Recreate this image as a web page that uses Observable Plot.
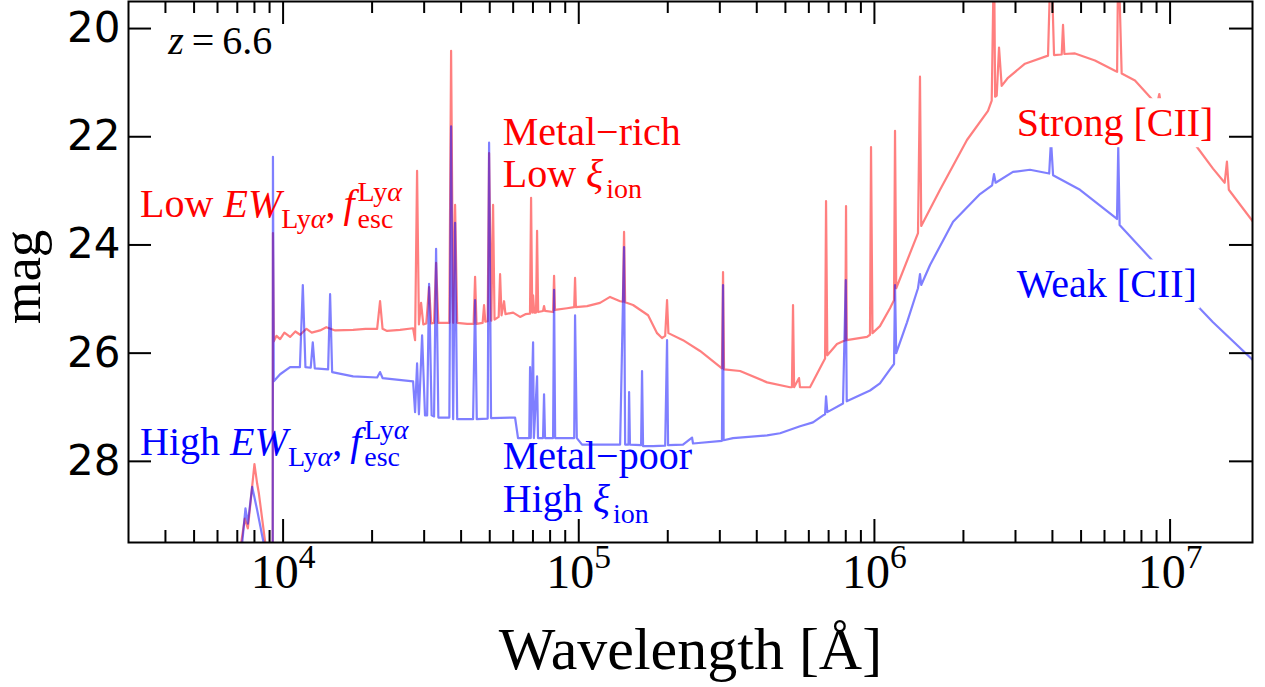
<!DOCTYPE html>
<html><head><meta charset="utf-8">
<script src="https://cdn.jsdelivr.net/npm/d3@7"></script>
<script src="https://cdn.jsdelivr.net/npm/@observablehq/plot@0.6"></script>
<style>body{margin:0;background:#fff;} svg{display:block}</style>
</head><body><div id="chart"></div>
<script>
// ---- data: [observed wavelength (Å), magnitude] ----
const redSpectrum = [
[7000,31],[7210,29.52],[7420,29.06],[7600,29.24],[8000,28.05],[8170,28.41],[8280,28.59],[8710,29.52],[9000,31],[9220,31],
[9240,23.78],[9300,25.78],[9500,25.68],[9770,25.74],[10100,25.62],[10560,25.70],[11000,25.60],[11420,25.66],[12000,25.55],[12500,25.62],
[13340,25.58],[14000,25.52],[15000,25.58],[17250,25.57],[19000,25.55],[20800,25.55],[21280,25.04],[21700,25.55],[22470,25.59],[24870,25.57],
[27520,25.54],[27950,25.76],[28390,22.63],[28800,25.47],[29290,25.07],[29800,25.47],[30500,25.45],[31170,24.78],[31700,25.45],[32400,25.44],[32920,24.33],
[33500,25.44],[36500,25.44],[37000,20.41],[37600,25.44],[38170,23.26],[38800,25.44],[41920,25.46],[44100,25.46],[44600,24.59],[45100,25.46],
[47300,25.44],[47830,25.11],[48300,25.42],[49200,25.41],[49740,22.30],[50600,25.40],[51310,23.26],[51900,25.38],[53600,25.33],[54190,24.54],[54800,25.30],[55890,25.04],
[56500,25.28],[60000,25.25],[63320,25.33],[66000,25.28],[68400,25.27],[68980,23.13],[69600,25.25],[70070,24.93],[70700,25.25],[71700,25.25],[72280,23.74],[72900,25.24],
[75700,25.22],[76310,25.13],[76900,25.22],[81870,25.24],[82510,24.57],[83100,25.20],[91290,25.17],[96500,25.15],[97160,24.61],[97800,25.15],
[106700,25.13],[118000,25.07],[127600,24.96],[138000,25.04],[141000,25.05],[142300,23.76],[143500,25.06],[152600,25.11],[171600,25.30],[184000,25.63],[191200,25.72],
[196000,25.68],[198900,25.02],[201000,25.63],[225200,25.76],[257200,25.96],[305000,26.28],[307600,24.50],[310000,26.30],[351200,26.33],[433500,26.54],
[518300,26.63],[526000,26.63],[530500,25.11],[535000,26.63],[555900,26.46],[560000,26.63],[605500,26.63],[670400,26.17],[681000,26.10],[686100,23.19],[693000,26.04],[747100,25.83],
[797000,25.76],[801700,23.28],[806000,25.76],[944100,25.70],[966000,25.66],[973900,22.19],[985000,25.63],[1.044e6,25.50],[1.129e6,25.17],[1.165e6,25.02],[1.174e6,21.89],[1.185e6,24.80],
[1.404e6,23.78],[1.426e6,20.89],[1.44e6,23.65],[1.667e6,22.98],[2.056e6,22.06],[2.422e6,21.52],[2.493e6,21.33],[2.538e6,18.5],[2.56e6,21.26],[2.592e6,21.24],
[2.639e6,20.35],[2.694e6,21.06],[2.83e6,20.91],[3.231e6,20.65],[3.865e6,20.50],[3.956e6,18.5],[4.05e6,20.49],[4.30e6,20.48],[4.344e6,19.93],[4.39e6,20.47],
[4.769e6,20.46],[5.572e6,20.59],[6.511e6,20.78],[6.62e6,20.80],[6.679e6,18.5],[6.859e6,20.83],[7.608e6,20.96],[9.031e6,21.41],[9.194e6,21.21],[9.36e6,21.47],[1.233e7,22.19],
[1.397e7,22.59],[1.53e7,22.85],[1.557e7,22.46],[1.58e7,22.98],[1.907e7,23.57]
];
const blueSpectrum = [
[7000,31],[7270,29.52],[7460,28.87],[7600,29.15],[7860,28.47],[8170,28.90],[8600,29.52],[9000,31],[9220,31],
[9240,22.37],[9300,26.52],[9770,26.39],[10560,26.26],[11400,26.26],[11660,24.74],[11900,26.26],[12400,26.27],[12600,25.80],[12800,26.28],
[14200,26.30],[14420,24.91],[14650,26.35],[17250,26.43],[20800,26.45],[21280,26.35],[21700,26.46],[27520,26.52],[27950,27.09],[28390,26.19],
[28800,27.13],[29520,25.67],[30200,27.15],[30700,27.15],[31170,24.72],[31800,27.15],[32400,27.17],[32920,24.07],[33500,27.19],[36500,27.19],[37000,21.81],[37600,27.22],
[38170,23.59],[38800,27.22],[43910,27.22],[44600,25.02],[45200,27.22],[49200,27.21],[49740,22.11],[50500,27.20],[60890,27.19],[62320,27.57],[68000,27.57],
[68440,26.26],[68800,27.57],[70070,25.80],[70500,27.57],[72280,26.43],[72800,27.57],[75700,27.57],[76310,26.76],[76900,27.57],[81870,27.57],[82510,24.83],[83200,27.57],
[96500,27.57],[97160,25.30],[98500,27.57],[102600,27.69],[138000,27.69],[142300,24.04],[143500,27.69],[147300,27.69],[148000,26.72],[149000,27.69],[162500,27.70],[163700,26.33],[165000,27.72],
[178400,27.72],[196000,27.71],[198900,25.76],[200500,27.70],[225200,27.69],[241600,27.56],[243500,27.67],[305000,27.62],[307600,24.74],[309000,27.61],[332500,27.57],[433500,27.52],
[479600,27.48],[560300,27.35],[619800,27.28],[670400,27.15],[681000,27.13],[686100,26.80],[693000,27.09],[783000,26.93],[800000,24.65],[806000,26.89],[966300,26.69],
[1.044e6,26.56],[1.129e6,26.30],[1.165e6,26.20],[1.174e6,24.74],[1.185e6,26.00],[1.289e6,25.43],[1.404e6,24.80],[1.426e6,24.54],[1.44e6,24.74],[1.542e6,24.37],[1.845e6,23.57],
[2.276e6,23.06],[2.50e6,22.90],[2.538e6,22.69],[2.57e6,22.85],[2.942e6,22.65],[3.359e6,22.61],[3.90e6,22.68],[3.956e6,22.06],[4.02e6,22.71],[4.958e6,22.98],
[6.613e6,23.52],[6.679e6,22.19],[6.75e6,23.63],[9.245e6,24.44],[1.195e7,25.04],[1.397e7,25.43],[1.907e7,26.13]
];

const xMajorTicks = [1e4, 1e5, 1e6, 1e7];
const xMinorTicks = [4e3,5e3,6e3,7e3,8e3,9e3,2e4,3e4,4e4,5e4,6e4,7e4,8e4,9e4,2e5,3e5,4e5,5e5,6e5,7e5,8e5,9e5,2e6,3e6,4e6,5e6,6e6,7e6,8e6,9e6];
const yTicks = [20, 22, 24, 26, 28];

const annText  = ["z = 6.6", "Low EW_Lyα, f_esc^Lyα", "High EW_Lyα, f_esc^Lyα", "Metal−rich", "Low ξ_ion", "Metal−poor", "High ξ_ion", "Strong [CII]", "Weak [CII]"];
const annWave  = [4085, 3284, 3284, 55340, 55340, 55340, 55340, 3.03e6, 3.03e6];
const annMag   = [20.47, 23.48, 27.88, 22.16, 22.92, 28.15, 28.94, 21.99, 24.97];
const annColor = ["black", "#ff0000", "#0000ff", "#ff0000", "#ff0000", "#0000ff", "#0000ff", "#ff0000", "#0000ff"];
const annBoxed = ["Strong [CII]", "Weak [CII]"];

// rich-text segments: i = italic, b = subscript, p = superscript, k = back to start of last subscript, s = small gap
const richText = {
  "z = 6.6": [["z","i"],["\u2009=\u20096.6",""]],
  "Low EW_Lyα, f_esc^Lyα": [["Low ",""],["EW","i"],["Ly","b"],["α","bi"],[",\u2009",""],["f","i"],["esc","bs"],["Ly","pk"],["α","pi"]],
  "High EW_Lyα, f_esc^Lyα": [["High ",""],["EW","i"],["Ly","b"],["α","bi"],[",\u2009",""],["f","i"],["esc","bs"],["Ly","pk"],["α","pi"]],
  "Low ξ_ion": [["Low ",""],["ξ","i"],["ion","bs"]],
  "High ξ_ion": [["High ",""],["ξ","i"],["ion","bs"]]
};

// ---- layout ----
const W = 1265, H = 687, mL = 128, mR = 13, mT = 1, mB = 145;
const fw = W - mL - mR, fh = H - mT - mB;
const serif = "'Liberation Serif', 'DejaVu Serif', serif";
const annSize = 40;

const red = redSpectrum.map(([w, m]) => ({w, m}));
const blue = blueSpectrum.map(([w, m]) => ({w, m}));

const annMarks = annText.map((t, i) => Plot.text([t], {
  x: () => annWave[i], y: () => annMag[i], text: d => d,
  fill: annColor[i], textAnchor: "start", lineAnchor: "bottom",
  fontSize: annSize, fontFamily: serif
}));

const plot = Plot.plot({
  width: W, height: H,
  marginLeft: mL, marginRight: mR, marginTop: mT, marginBottom: mB,
  style: {background: "white", fontFamily: serif},
  x: {type: "log", domain: [3000, 1.9e7]},
  y: {domain: [19.5, 29.5], reverse: true},
  marks: [
    Plot.line(red, {x: "w", y: "m", stroke: "red", strokeOpacity: 0.5, strokeWidth: 2.2, clip: true}),
    Plot.line(blue, {x: "w", y: "m", stroke: "blue", strokeOpacity: 0.5, strokeWidth: 2.2, clip: true}),
    Plot.tickX(xMajorTicks, {x: d => d, insetTop: fh - 23, stroke: "black", strokeWidth: 2}),
    Plot.tickX(xMajorTicks, {x: d => d, insetBottom: fh - 23, stroke: "black", strokeWidth: 2}),
    Plot.tickX(xMinorTicks, {x: d => d, insetTop: fh - 12, stroke: "black", strokeWidth: 2}),
    Plot.tickX(xMinorTicks, {x: d => d, insetBottom: fh - 12, stroke: "black", strokeWidth: 2}),
    Plot.tickY(yTicks, {y: d => d, insetRight: fw - 23, stroke: "black", strokeWidth: 2}),
    Plot.tickY(yTicks, {y: d => d, insetLeft: fw - 23, stroke: "black", strokeWidth: 2}),
    Plot.frame({stroke: "black", strokeWidth: 2}),
    Plot.axisY(yTicks, {anchor: "left", tickSize: 0, tickPadding: 8, fontSize: 42, fontFamily: "'DejaVu Sans', sans-serif", label: null,
      tickFormat: d => String(d)}),
    Plot.axisX(xMajorTicks, {anchor: "bottom", tickSize: 0, tickPadding: 11, fontSize: 48, fontFamily: serif, label: null,
      tickFormat: d => "10^" + Math.round(Math.log10(d))}),
    Plot.text(["mag"], {frameAnchor: "left", dx: -89, dy: 5, rotate: -90, textAnchor: "middle", lineAnchor: "bottom", fontSize: 55, fontFamily: serif, fill: "black"}),
    Plot.text(["Wavelength [Å]"], {frameAnchor: "bottom", dy: 126, textAnchor: "middle", lineAnchor: "bottom", fontSize: 60, fontFamily: serif, fill: "black"}),
    ...annMarks
  ]
});
document.getElementById("chart").appendChild(plot);

// ---- rich text post-processing ----
const NS = "http://www.w3.org/2000/svg";
function applyRich(el, segs, base) {
  el.textContent = "";
  let cur = 0, group = [], prevSub = false;
  for (const [t, st] of segs) {
    const ts = document.createElementNS(NS, "tspan");
    ts.textContent = t;
    const sub = st.includes("b"), sup = st.includes("p");
    const target = sub ? 0.28 * base : sup ? -0.40 * base : 0;
    if (st.includes("i")) ts.setAttribute("font-style", "italic");
    if (sub || sup) ts.setAttribute("font-size", (0.7 * base) + "px");
    if (target !== cur) { ts.setAttribute("dy", target - cur); cur = target; }
    if (st.includes("s")) ts.setAttribute("dx", 3);
    if (st.includes("k")) {
      const w = group.reduce((s, g) => s + g.getComputedTextLength(), 0);
      ts.setAttribute("dx", -w);
    }
    el.appendChild(ts);
    if (sub) { if (!prevSub) group = []; group.push(ts); }
    prevSub = sub;
  }
}
plot.querySelectorAll("text").forEach(el => {
  const s = el.textContent;
  const m = s.match(/^10\^(\d)$/);
  if (m) {
    applyRich(el, [["10", ""], [m[1], "p"]], 48);
  } else if (richText[s]) {
    applyRich(el, richText[s], annSize);
  }
  if (annBoxed.includes(s)) {
    const bb = el.getBBox();
    const r = document.createElementNS(NS, "rect");
    r.setAttribute("x", bb.x - 3); r.setAttribute("y", bb.y - 2);
    r.setAttribute("width", bb.width + 6); r.setAttribute("height", bb.height + 4);
    r.setAttribute("fill", "white");
    if (el.getAttribute("transform")) r.setAttribute("transform", el.getAttribute("transform"));
    el.parentNode.insertBefore(r, el);
  }
});
</script>
</body></html>
